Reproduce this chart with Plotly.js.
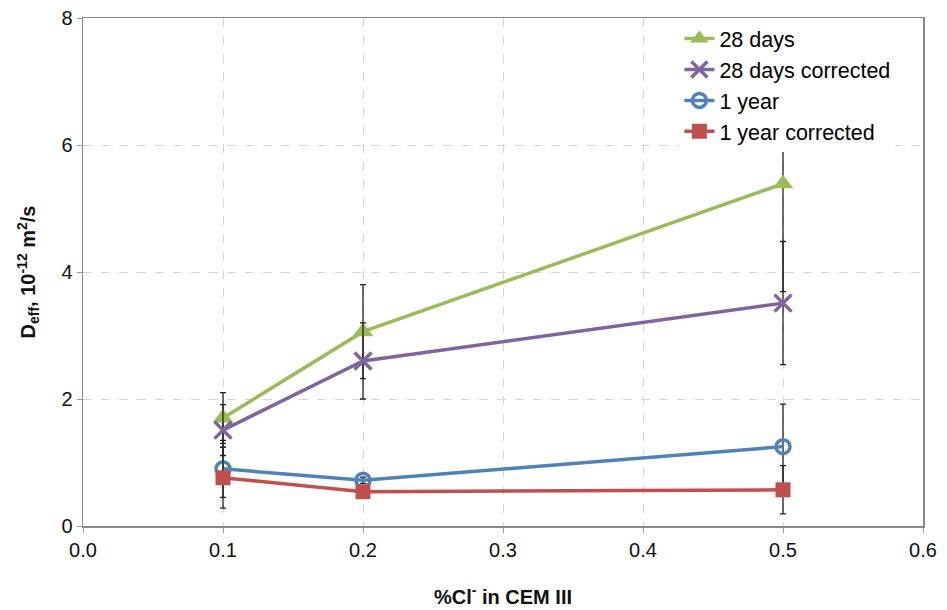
<!DOCTYPE html>
<html>
<head>
<meta charset="utf-8">
<script src="https://cdn.plot.ly/plotly-3.0.1.min.js"></script>
<style>html,body{margin:0;padding:0;background:#fff;}#chart{width:947px;height:610px;}</style>
</head>
<body>
<div id="chart"></div>
<script>
const xValues = [0.1, 0.2, 0.5];
const seriesNames = ["28 days", "28 days corrected", "1 year", "1 year corrected"];
const days28 = [1.70, 3.06, 5.39];
const days28Err = [0.40, 0.74, 1.70];
const days28Corr = [1.51, 2.60, 3.51];
const days28CorrErr = [0.40, 0.60, 0.97];
const year1 = [0.90, 0.72, 1.25];
const year1Err = [0.45, 0.05, 0.67];
const year1Corr = [0.76, 0.54, 0.57];
const year1CorrErr = [0.48, 0.03, 0.38];
const xTicks = [0, 0.1, 0.2, 0.3, 0.4, 0.5, 0.6];
const xTickText = ["0.0", "0.1", "0.2", "0.3", "0.4", "0.5", "0.6"];
const yTicks = [0, 2, 4, 6, 8];

function err(arr) {
  return {type: 'data', array: arr, visible: true, color: '#222', thickness: 1.3, width: 3};
}
const traces = [
  {x: xValues, y: days28, name: seriesNames[0], mode: 'lines+markers', error_y: err(days28Err),
   line: {color: '#9BBB59', width: 3.5}, marker: {symbol: 'triangle-up', size: 18, color: '#9BBB59'}},
  {x: xValues, y: days28Corr, name: seriesNames[1], mode: 'lines+markers', error_y: err(days28CorrErr),
   line: {color: '#8064A2', width: 3.5}, marker: {symbol: 'x-thin-open', size: 17, color: '#8064A2', line: {width: 3.5, color: '#8064A2'}}},
  {x: xValues, y: year1, name: seriesNames[2], mode: 'lines+markers', error_y: err(year1Err),
   line: {color: '#4F81BD', width: 3.5}, marker: {symbol: 'circle-open', size: 14, color: '#4F81BD', line: {width: 3.5, color: '#4F81BD'}}},
  {x: xValues, y: year1Corr, name: seriesNames[3], mode: 'lines+markers', error_y: err(year1CorrErr),
   line: {color: '#C0504D', width: 3.5}, marker: {symbol: 'square', size: 15, color: '#C0504D'}}
];

const tickFont = {family: '"Liberation Sans Narrow", "Liberation Sans", Arial, sans-serif', size: 20, color: '#111'};
const layout = {
  width: 947, height: 610,
  margin: {l: 83, r: 24, t: 18, b: 84},
  paper_bgcolor: '#fff', plot_bgcolor: '#fff',
  showlegend: true,
  legend: {x: 0.71, y: 1.0, xanchor: 'left', yanchor: 'top', bgcolor: '#fff',
    font: {family: '"Liberation Sans", Arial, sans-serif', size: 21.5, color: '#000'},
    tracegroupgap: 0, itemwidth: 30},
  xaxis: {
    range: [0, 0.6], tickvals: xTicks, ticktext: xTickText,
    showgrid: true, gridcolor: '#d4d4d4', griddash: 'dash', gridwidth: 1,
    showline: true, linecolor: '#888', linewidth: 1.5, mirror: true,
    ticks: 'outside', ticklen: 5, tickcolor: '#999',
    zeroline: false, tickfont: tickFont,
    title: {text: '<b>%Cl<sup>-</sup> in CEM III</b>', standoff: 30,
      font: {family: '"Liberation Sans Narrow", "Liberation Sans", Arial, sans-serif', size: 20, color: '#111'}}
  },
  yaxis: {
    range: [0, 8], tickvals: yTicks,
    showgrid: true, gridcolor: '#d4d4d4', griddash: 'dash', gridwidth: 1,
    showline: true, linecolor: '#888', linewidth: 1.5, mirror: true,
    ticks: 'outside', ticklen: 5, tickcolor: '#999',
    zeroline: false, tickfont: tickFont,
    title: {text: '<b>D<sub>eff</sub>, 10<sup>-12</sup> m<sup>2</sup>/s</b>', standoff: 20,
      font: {family: '"Liberation Sans", Arial, sans-serif', size: 20, color: '#111'}}
  }
};
Plotly.newPlot('chart', traces, layout, {displayModeBar: false, staticPlot: true});
</script>
</body>
</html>
